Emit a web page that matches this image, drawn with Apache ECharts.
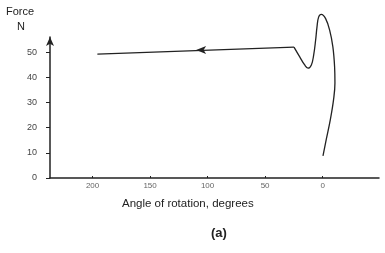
<!DOCTYPE html>
<html><head><meta charset="utf-8">
<script src="https://cdn.jsdelivr.net/npm/echarts@6/dist/echarts.min.js"></script>
<style>html,body{margin:0;padding:0;background:#fff}#c{width:385px;height:253px}</style>
</head><body><div id="c"></div>
<script>
// Loop part of the curve (start at bottom, go up, peak, dip, to corner)
const loopAngles = [-0.3, -3.2, -6.7, -9.5, -10.7, -10.4, -8.9, -6.1, -2.6, 1.1, 3.5, 4.9, 6.1, 7.8, 9.8, 12.7, 15.6, 19.9, 24.9];
const loopForces = [8.8, 15.4, 23.2, 31.1, 37.7, 44.2, 52.1, 58.7, 63.3, 65.0, 63.9, 60.0, 54.7, 48.8, 44.9, 43.6, 44.9, 48.1, 52.0];
// Straight return line
const lineAngles = [24.9, 195.8];
const lineForces = [52.0, 49.2];
// Arrow marker on the return line
const arrowAngle = [110];
const arrowForce = [50.8];
const xTicks = [0, 50, 100, 150, 200];
const yTicks = [0, 10, 20, 30, 40, 50];

const zip = (a, b) => a.map((v, i) => [v, b[i]]);
const col = '#222';
const font = 'Liberation Sans';
const chart = echarts.init(document.getElementById('c'), null, {renderer: 'canvas'});
chart.setOption({
  animation: false,
  grid: {left: 50, right: 6, top: 37, bottom: 75, containLabel: false},
  xAxis: {
    type: 'value', inverse: true, min: -49, max: 237,
    axisLine: {show: true, onZero: false, lineStyle: {color: col, width: 1.5}},
    axisTick: {show: true, inside: true, length: 2, customValues: xTicks, lineStyle: {color: col}},
    axisLabel: {customValues: xTicks, color: '#666', fontSize: 8, fontFamily: font, margin: 4},
    splitLine: {show: false}
  },
  yAxis: {
    type: 'value', min: 0, max: 56,
    axisLine: {show: true, onZero: false, symbol: ['none', 'arrow'], symbolSize: [6, 9], lineStyle: {color: col, width: 1.5}},
    axisTick: {show: true, length: 4, customValues: yTicks, lineStyle: {color: col}},
    axisLabel: {customValues: yTicks, color: '#444', fontSize: 9, fontFamily: font, margin: 13},
    splitLine: {show: false}
  },
  graphic: [
    {type: 'text', left: 6, top: 6, style: {text: 'Force', font: '11px "Liberation Sans"', fill: '#222'}},
    {type: 'text', left: 17, top: 21, style: {text: 'N', font: '11px "Liberation Sans"', fill: '#222'}},
    {type: 'text', left: 122, top: 198, style: {text: 'Angle of rotation, degrees', font: '11.5px "Liberation Sans"', fill: '#222'}},
    {type: 'text', left: 211, top: 227, style: {text: '(a)', font: 'bold 13px "Liberation Sans"', fill: '#222'}}
  ],
  series: [
    {type: 'line', data: zip(loopAngles, loopForces), smooth: 0.4, smoothMonotone: 'none', clip: false,
     symbol: 'none', lineStyle: {color: col, width: 1.3}},
    {type: 'line', data: zip(lineAngles, lineForces), clip: false,
     symbol: 'none', lineStyle: {color: col, width: 1.3}},
    {type: 'line', data: zip(arrowAngle, arrowForce), symbol: 'arrow', symbolSize: [6, 10], symbolRotate: 90,
     itemStyle: {color: col}, lineStyle: {width: 0}}
  ]
});
</script></body></html>
